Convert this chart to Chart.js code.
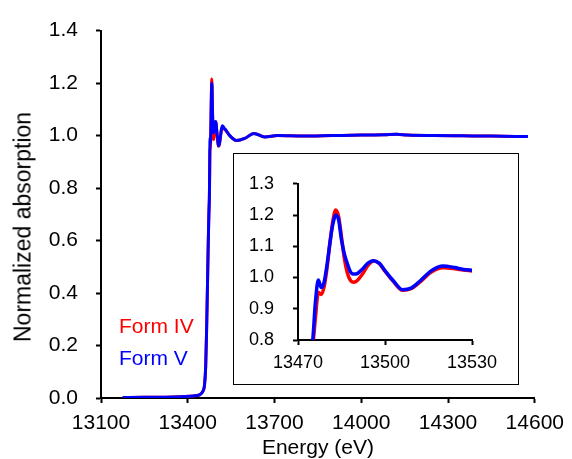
<!DOCTYPE html>
<html>
<head>
<meta charset="utf-8">
<script src="https://cdn.jsdelivr.net/npm/chart.js@4"></script>
<style>
  body { margin: 0; background: #fff; }
  #wrap { position: relative; width: 572px; height: 459px; overflow: hidden; }
  #inset { position: absolute; left: 233px; top: 153px; width: 286px; height: 232px;
           box-sizing: border-box; border: 1px solid #000; background: #fff; }
  .lg { position: absolute; left: 119px; font: 21px "Liberation Sans", Arial, sans-serif; white-space: nowrap; }
  #ytitle { position: absolute; left: 23px; top: 227px; line-height: 1; white-space: nowrap;
            font: 23px "Liberation Sans", Arial, sans-serif; color: #000;
            transform: translate(-50%, -50%) rotate(-90deg); }
</style>
</head>
<body>
<div id="wrap">
  <canvas id="mainChart" width="572" height="459"></canvas>
  <div id="ytitle">Normalized absorption</div>
  <div class="lg" style="top: 314px; color: #ff0000;">Form IV</div>
  <div class="lg" style="top: 346px; color: #0000ff;">Form V</div>
  <div id="inset"><canvas id="insetChart" width="284" height="230"></canvas></div>
</div>
<script>
const energy = [
  13175, 13250, 13350, 13420, 13440, 13452, 13458, 13462, 13465, 13468, 13471, 13473,
  13475, 13476, 13477, 13478, 13479, 13480, 13481, 13482, 13483, 13484, 13485, 13486,
  13487, 13488, 13489, 13490, 13492, 13494, 13496, 13498, 13500, 13503, 13506, 13509,
  13512, 13516, 13520, 13524, 13527, 13531, 13545, 13569, 13597, 13629, 13666, 13711,
  13800, 13900, 14000, 14080, 14122, 14160, 14250, 14350, 14450, 14576
];
const formIV = [
  0.002, 0.003, 0.004, 0.008, 0.012, 0.025, 0.05, 0.12, 0.25, 0.42, 0.6, 0.7,
  0.775, 0.87, 0.952, 0.946, 0.97, 1.03, 1.11, 1.18, 1.216, 1.195, 1.13, 1.06,
  1.015, 0.992, 0.985, 0.987, 1.008, 1.037, 1.053, 1.045, 1.02, 0.986, 0.959, 0.964,
  0.985, 1.018, 1.031, 1.028, 1.024, 1.020, 1.0, 0.981, 0.989, 1.008, 0.995, 1.0,
  0.998, 1.0, 1.002, 1.003, 1.005, 1.002, 1.0, 0.999, 0.998, 0.996
];
const formV = [
  0.002, 0.003, 0.004, 0.008, 0.012, 0.025, 0.05, 0.12, 0.25, 0.42, 0.6, 0.7,
  0.79, 0.92, 0.992, 0.968, 0.985, 1.04, 1.11, 1.17, 1.199, 1.185, 1.12, 1.075,
  1.045, 1.02, 1.011, 1.011, 1.025, 1.045, 1.054, 1.046, 1.022, 0.988, 0.961, 0.966,
  0.988, 1.022, 1.037, 1.032, 1.026, 1.022, 1.0, 0.981, 0.989, 1.008, 0.995, 1.0,
  0.998, 1.0, 1.002, 1.003, 1.005, 1.002, 1.0, 0.999, 0.998, 0.996
];
const mainXTicks = [13100, 13400, 13700, 14000, 14300, 14600];
const insetXTicks = [13470, 13500, 13530];

const fontFamily = '"Liberation Sans", Arial, sans-serif';
const mainFont = { family: fontFamily, size: 21 };
const insetFont = { family: fontFamily, size: 18 };

function series(lineWidth) {
  // blue drawn on top, so it goes first
  return [
    { label: 'Form V', data: energy.map((e, i) => ({ x: e, y: formV[i] })),
      borderColor: '#0000ff', borderWidth: lineWidth, pointRadius: 0, cubicInterpolationMode: 'monotone' },
    { label: 'Form IV', data: energy.map((e, i) => ({ x: e, y: formIV[i] })),
      borderColor: '#ff0000', borderWidth: lineWidth, pointRadius: 0, cubicInterpolationMode: 'monotone' }
  ];
}

function axisStyle() {
  return {
    border: { color: '#000', width: 2 },
    grid: { drawOnChartArea: false, drawTicks: true, tickLength: 5, tickColor: '#000', tickWidth: 2 }
  };
}

new Chart(document.getElementById('mainChart'), {
  type: 'line',
  data: { datasets: series(3) },
  options: {
    responsive: false,
    animation: false,
    devicePixelRatio: 1,
    layout: { padding: { top: 23, right: 32, left: 0, bottom: 0 } },
    plugins: { legend: { display: false }, tooltip: { enabled: false } },
    scales: {
      x: {
        type: 'linear', min: 13100, max: 14600,
        ...axisStyle(),
        afterBuildTicks: s => { s.ticks = mainXTicks.map(v => ({ value: v })); },
        afterFit: s => { s.height = 61; },
        ticks: { font: mainFont, color: '#000', padding: 8, callback: v => String(v) },
        title: { display: true, text: 'Energy (eV)', font: { ...mainFont, lineHeight: 1 }, color: '#000', padding: 0 }
      },
      y: {
        min: 0, max: 1.4,
        ...axisStyle(),
        afterFit: s => { s.width = 101; },
        ticks: { font: mainFont, color: '#000', padding: 18, stepSize: 0.2, callback: v => v.toFixed(1) }
      }
    }
  }
});

new Chart(document.getElementById('insetChart'), {
  type: 'line',
  data: { datasets: series(3.5) },
  options: {
    responsive: false,
    animation: false,
    devicePixelRatio: 1,
    layout: { padding: { top: 21, right: 46, left: 0, bottom: 0 } },
    plugins: { legend: { display: false }, tooltip: { enabled: false } },
    scales: {
      x: {
        type: 'linear', min: 13470, max: 13530,
        ...axisStyle(),
        afterBuildTicks: s => { s.ticks = insetXTicks.map(v => ({ value: v })); },
        afterFit: s => { s.height = 44; },
        ticks: { font: insetFont, color: '#000', padding: 7, callback: v => String(v) }
      },
      y: {
        min: 0.8, max: 1.3,
        ...axisStyle(),
        afterFit: s => { s.width = 64; },
        ticks: { font: insetFont, color: '#000', padding: 19, stepSize: 0.1, callback: v => v.toFixed(1) }
      }
    }
  }
});
</script>
</body>
</html>
